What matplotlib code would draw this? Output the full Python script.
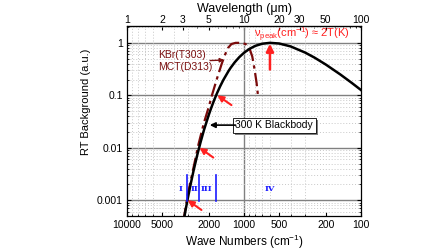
import matplotlib.pyplot as plt
import numpy as np
from matplotlib.ticker import FixedLocator, NullFormatter, LogLocator
import matplotlib.patheffects as pe

plt.rcParams['font.family'] = ['Liberation Sans', 'DejaVu Sans']
plt.rcParams['mathtext.fontset'] = 'custom'
plt.rcParams['mathtext.rm'] = 'Liberation Sans'
plt.rcParams['mathtext.it'] = 'Liberation Sans'

# 300 K blackbody (normalised)
bb_wn = [3500, 3300, 3150, 3000, 2850, 2700, 2500, 2350, 2200, 2000, 1900, 1800, 1700,
         1600, 1500, 1350, 1300, 1200, 1100, 1000, 900, 800, 700, 600, 500, 400,
         300, 250, 200, 150, 120, 100]
bb_val = [1.7e-4, 3.7e-4, 6.7e-4, 0.00118, 0.00208, 0.00364, 0.00754, 0.0128, 0.0217,
          0.0424, 0.0587, 0.0807, 0.11, 0.148, 0.197, 0.295, 0.335, 0.426, 0.531,
          0.647, 0.766, 0.876, 0.962, 1.0, 0.971, 0.856, 0.652, 0.524, 0.386,
          0.249, 0.1725, 0.126]

# KBr(T303) / MCT(D313) system response
sys_wn = [3300, 3000, 2700, 2440, 2200, 2000, 1880, 1700, 1550, 1450, 1370, 1280,
          1180, 1060, 970, 900, 850, 810, 780, 760]
sys_val = [4e-4, 0.0014, 0.0042, 0.012, 0.03, 0.06, 0.1, 0.21, 0.4, 0.6, 0.8, 0.95,
           1.0, 1.0, 0.95, 0.8, 0.55, 0.3, 0.17, 0.1]

# spectral regions
region_edges = [3050, 2430, 1750]
region_names = ['I', 'II', 'III', 'IV']
region_pos = [3450, 2650, 2080, 600]

fig = plt.figure(figsize=(4.48, 2.52), dpi=100)
ax = fig.add_axes([0.2835, 0.143, 0.5223, 0.754])

ax.set_xscale('log')
ax.set_yscale('log')
ax.set_xlim(10000, 100)
ax.set_ylim(5e-4, 2.1)

# grid
ax.yaxis.set_minor_locator(LogLocator(base=10, subs=np.arange(2, 10)))
ax.xaxis.set_minor_locator(LogLocator(base=10, subs=np.arange(2, 10)))
ax.grid(which='minor', color='#c8c8c8', linestyle=(0, (1, 2)), linewidth=0.7)
for yv in [1, 0.1, 0.01, 0.001]:
    ax.axhline(yv, color='#808080', linewidth=1.0, zorder=1)
ax.axvline(1000, color='#808080', linewidth=1.0, zorder=1)

ax.plot(sys_wn, sys_val, color='#7a0a0a', linewidth=1.6, linestyle=(0, (6, 2, 1.5, 2)), zorder=3)
ax.plot(bb_wn, bb_val, color='black', linewidth=1.8, zorder=4)

ax.set_xticks([10000, 5000, 2000, 1000, 500, 200, 100])
ax.set_xticklabels(['10000', '5000', '2000', '1000', '500', '200', '100'])
ax.xaxis.set_minor_formatter(NullFormatter())
ax.set_yticks([1, 0.1, 0.01, 0.001])
ax.set_yticklabels(['1', '0.1', '0.01', '0.001'])
ax.yaxis.set_minor_formatter(NullFormatter())
ax.tick_params(which='both', direction='in', labelsize=7.5, right=True)
ax.tick_params(which='major', length=3, pad=3)
ax.tick_params(which='minor', length=1.5)

ax.set_xlabel('Wave Numbers (cm$^{-1}$)', fontsize=8.5)
ax.xaxis.set_label_coords(0.5, -0.09)
ax.set_ylabel('RT Background (a.u.)', fontsize=8)
ax.yaxis.set_label_coords(-0.155, 0.6)

sec = ax.secondary_xaxis('top', functions=(lambda x: 1e4 / x, lambda x: 1e4 / x))
sec.xaxis.set_major_locator(FixedLocator([1, 2, 3, 5, 10, 20, 30, 50, 100]))
sec.set_xticklabels(['1', '2', '3', '5', '10', '20', '30', '50', '100'])
sec.xaxis.set_minor_formatter(NullFormatter())
sec.tick_params(which='both', direction='in', labelsize=7.5, pad=1)
sec.tick_params(which='major', length=3)
sec.tick_params(which='minor', length=1.5)
sec.set_xlabel('Wavelength (\u03bcm)', fontsize=9, labelpad=2)

# region markers
blue = '#1a1aff'
for e in region_edges:
    ax.plot([e, e], [0.00095, 0.003], color=blue, linewidth=1.2, zorder=5)
for name, p in zip(region_names, region_pos):
    ax.text(p, 0.0016, name, color=blue, fontsize=6, family='DejaVu Serif',
            fontweight='bold', ha='center', va='center', zorder=5)

# red arrows on blackbody
red = '#ff2020'
for tip, tail in [((1690, 0.1), (1280, 0.065)),
                  ((2400, 0.01), (1830, 0.0065)),
                  ((3030, 0.001), (2310, 0.00065))]:
    ax.annotate('', xy=tip, xytext=tail,
                arrowprops=dict(arrowstyle='-|>', color=red, lw=1.5,
                                mutation_scale=9, shrinkA=0, shrinkB=0), zorder=6)

# peak arrow
ax.annotate('', xy=(600, 0.96), xytext=(600, 0.31),
            arrowprops=dict(arrowstyle='-|>', color=red, lw=1.8,
                            mutation_scale=11, shrinkA=0, shrinkB=0), zorder=6)
ax.text(320, 1.43, '\u03bd$_{\\mathrm{peak}}$(cm$^{-1}$) \u2248 2T(K)', color=red,
        fontsize=8, ha='center', va='center', zorder=6)

# system response label
dred = '#7a1010'
ax.text(3400, 0.59, 'KBr(T303)', color=dred, fontsize=7.5, ha='center', va='center')
ax.text(3200, 0.35, 'MCT(D313)', color=dred, fontsize=7.5, ha='center', va='center')
ax.annotate('', xy=(1480, 0.47), xytext=(1950, 0.46),
            arrowprops=dict(arrowstyle='-|>', color=dred, lw=1.0,
                            mutation_scale=6, shrinkA=0, shrinkB=0))

# blackbody label with shadow box
lbl = ax.text(1190, 0.027, '300 K Blackbody', fontsize=7.5, ha='left', va='center', zorder=7,
              bbox=dict(boxstyle='square,pad=0.25', facecolor='white', edgecolor='black',
                        linewidth=0.6))
lbl.get_bbox_patch().set_path_effects(
    [pe.SimplePatchShadow(offset=(2, -2), shadow_rgbFace='#808080', alpha=1.0), pe.Normal()])
ax.annotate('', xy=(1960, 0.027), xytext=(1180, 0.027),
            arrowprops=dict(arrowstyle='-|>', color='black', lw=1.2,
                            mutation_scale=8, shrinkA=0, shrinkB=0), zorder=7)

for s in ax.spines.values():
    s.set_linewidth(0.9)

fig.savefig('out.png', dpi=100)
